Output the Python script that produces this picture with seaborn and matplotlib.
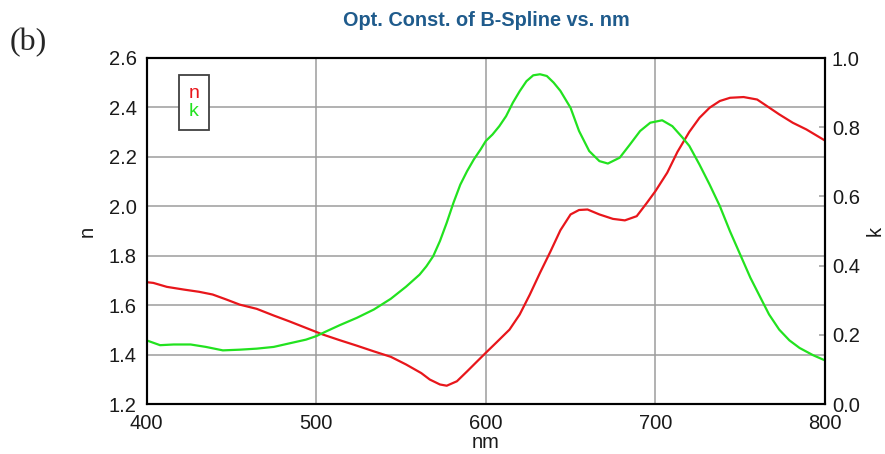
import matplotlib
matplotlib.use("Agg")
import matplotlib.pyplot as plt
from matplotlib.lines import Line2D
from matplotlib.ticker import FormatStrFormatter
import seaborn as sns
import pandas as pd

# ---- data ----
wl_n = [400, 404, 412, 422, 431, 439, 447, 455, 465, 475, 484, 494, 504, 514, 524,
        534, 544, 553, 562, 567, 573, 577, 583, 589, 595, 600, 606, 614, 620, 626,
        632, 638, 644, 650, 655, 660, 667, 675, 682, 689, 695, 700, 707, 713, 720,
        726, 732, 738, 744, 752, 760, 765, 773, 781, 789, 800]
n_vals = [1.693, 1.690, 1.674, 1.663, 1.654, 1.643, 1.623, 1.602, 1.585, 1.558, 1.535,
          1.508, 1.481, 1.458, 1.436, 1.413, 1.391, 1.360, 1.325, 1.299, 1.279, 1.274,
          1.292, 1.332, 1.373, 1.407, 1.447, 1.501, 1.562, 1.643, 1.731, 1.815, 1.903,
          1.967, 1.985, 1.987, 1.967, 1.949, 1.943, 1.960, 2.014, 2.061, 2.136, 2.220,
          2.301, 2.358, 2.399, 2.426, 2.439, 2.442, 2.432, 2.409, 2.372, 2.338, 2.311,
          2.266]

wl_k = [400, 408, 416, 426, 435, 445, 455, 465, 475, 484, 494, 500, 506, 514, 524,
        534, 544, 553, 561, 565, 569, 573, 577, 581, 585, 589, 593, 597, 600, 604,
        608, 612, 616, 620, 624, 628, 632, 636, 640, 644, 650, 655, 661, 667, 672,
        679, 685, 691, 697, 704, 710, 716, 720, 726, 732, 738, 744, 750, 756, 762,
        767, 773, 779, 785, 793, 800]
k_vals = [0.184, 0.170, 0.172, 0.172, 0.165, 0.155, 0.157, 0.160, 0.165, 0.175, 0.186,
          0.196, 0.210, 0.228, 0.249, 0.273, 0.304, 0.339, 0.374, 0.398, 0.427, 0.471,
          0.524, 0.582, 0.634, 0.673, 0.707, 0.736, 0.760, 0.779, 0.803, 0.832, 0.871,
          0.904, 0.933, 0.950, 0.953, 0.948, 0.929, 0.905, 0.856, 0.789, 0.731, 0.702,
          0.695, 0.712, 0.750, 0.789, 0.813, 0.820, 0.803, 0.770, 0.746, 0.692, 0.634,
          0.572, 0.499, 0.432, 0.365, 0.307, 0.259, 0.215, 0.184, 0.162, 0.141, 0.126]

x_ticks = [400, 500, 600, 700, 800]
n_ticks = [1.2, 1.4, 1.6, 1.8, 2.0, 2.2, 2.4, 2.6]
k_ticks = [0.0, 0.2, 0.4, 0.6, 0.8, 1.0]

title = "Opt. Const. of B-Spline vs. nm"
panel_label = "(b)"

RED = "#e8161b"
GREEN = "#22e21f"
GRID = "#9c9c9c"

sns.set_style("white")
plt.rcParams["font.family"] = ["Liberation Sans", "DejaVu Sans"]

df_n = pd.DataFrame({"nm": wl_n, "n": n_vals})
df_k = pd.DataFrame({"nm": wl_k, "k": k_vals})

fig = plt.figure(figsize=(8.85, 4.54), dpi=100)
W, H = 885, 454
ax = fig.add_axes([146.5 / W, 1 - 404 / H, (825 - 146.5) / W, 346 / H])

sns.lineplot(data=df_n, x="nm", y="n", ax=ax, color=RED, lw=1.6,
             sort=False, estimator=None)
ax2 = ax.twinx()
sns.lineplot(data=df_k, x="nm", y="k", ax=ax2, color=GREEN, lw=1.6,
             sort=False, estimator=None)
for a in (ax, ax2):
    for ln in a.get_lines():
        ln.set_solid_joinstyle("round")
        ln.set_solid_capstyle("round")

ax.set_xlim(400, 800)
ax.set_ylim(1.2, 2.6)
ax2.set_ylim(0, 1)
ax.set_xticks(x_ticks)
ax.set_yticks(n_ticks)
ax.yaxis.set_major_formatter(FormatStrFormatter("%.1f"))
ax2.set_yticks(k_ticks)
ax2.yaxis.set_major_formatter(FormatStrFormatter("%.1f"))

ax.grid(True, color=GRID, lw=1.1)
ax.set_axisbelow(True)

fs = 14.5
ax.tick_params(axis="both", length=0, labelsize=fs, colors="#1a1a1a")
ax.tick_params(axis="y", pad=7)
ax.tick_params(axis="x", pad=7)
ax2.tick_params(axis="y", direction="in", length=4, width=1.1, color=GRID,
                labelsize=fs, labelcolor="#1a1a1a", pad=5)

for a in (ax, ax2):
    for s in a.spines.values():
        s.set_visible(True)
        s.set_color("black")
        s.set_linewidth(1.5)

ax.set_xlabel("nm", fontsize=fs, color="#1a1a1a")
ax.set_ylabel("n", fontsize=fs, color="#1a1a1a")
ax2.set_ylabel("k", fontsize=fs, color="#1a1a1a")
ax.yaxis.set_label_coords(-0.073, 0.5)
ax2.yaxis.set_label_coords(1.060, 0.5)
ax.xaxis.set_label_coords(0.5, -0.084)

handles = [Line2D([], [], lw=0, color=RED), Line2D([], [], lw=0, color=GREEN)]
leg = ax2.legend(handles, ["n", "k"], loc="upper left",
                 bbox_to_anchor=((179 - 146.5) / 678.5, 1 - (75 - 58) / 346),
                 handlelength=0, handletextpad=0, labelcolor=[RED, GREEN],
                 frameon=True, fancybox=False, edgecolor="#404040", framealpha=1,
                 fontsize=14, borderpad=0.5, labelspacing=0.0, borderaxespad=0)
leg.get_frame().set_linewidth(1.3)

fig.text(486 / W, 1 - 20 / H, title, ha="center", va="center",
         fontweight="bold", color="#1f5b8c", fontsize=14.3)
fig.text(10 / W, 1 - 43 / H, panel_label, ha="left", va="center",
         family=["Liberation Serif", "DejaVu Serif"], fontsize=23)

fig.savefig("out.png", dpi=100)
